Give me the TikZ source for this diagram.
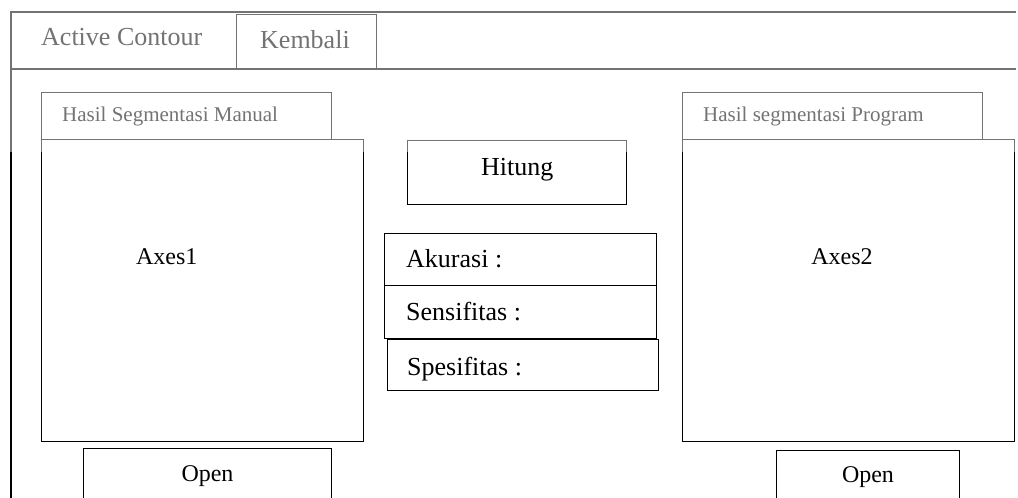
\documentclass[tikz,border=0pt]{standalone}
\usepackage{fontspec}
\setmainfont{Liberation Serif}
\begin{document}
\begin{tikzpicture}[x=1pt,y=-1pt,
  frame/.style={draw=black, line width=1.3pt},
  box/.style={draw=black, line width=1.3pt, inner sep=0pt, anchor=north west},
  big/.style={font=\fontsize{26}{30}\selectfont, inner sep=0pt, anchor=base west},
  small/.style={font=\fontsize{21}{25}\selectfont, inner sep=0pt, anchor=base west},
  mid/.style={font=\fontsize{24}{28}\selectfont, inner sep=0pt, anchor=base},
]
\useasboundingbox (0,0) rectangle (1018,498);

% window frame and title bar
\coordinate (winBL) at (11,510);
\coordinate (winTL) at (11,12);
\coordinate (winTR) at (1016,12);
\coordinate (barL) at (11,69);
\coordinate (barR) at (1016,69);
\draw[frame] (winBL) -- (winTL) -- (winTR);
\draw[frame] (barL) -- (barR);

\node[big] (title) at (41,45) {Active Contour};
\node[box, minimum width=140pt, minimum height=55pt] (kembali) at (235.5,13.5) {};
\node[big] (kembalitxt) at (260,48) {Kembali};

% left panel: manual segmentation
\node[box, minimum width=290pt, minimum height=47pt] (tabL) at (41,92) {};
\node[small] (tabLtxt) at (62,121.7) {Hasil Segmentasi Manual};
\node[box, minimum width=322pt, minimum height=302pt] (axesL) at (41,139) {};
\node[mid] (axesLtxt) at (166.7,264) {Axes1};
\node[box, minimum width=248pt, minimum height=62pt] (openL) at (83,448) {};
\node[mid] (openLtxt) at (207.5,481) {Open};

% right panel: program segmentation
\node[box, minimum width=300pt, minimum height=47pt] (tabR) at (682,92) {};
\node[small] (tabRtxt) at (703,121.7) {Hasil segmentasi Program};
\node[box, minimum width=332pt, minimum height=302pt] (axesR) at (682,139) {};
\node[mid] (axesRtxt) at (842,264) {Axes2};
\node[box, minimum width=183pt, minimum height=60pt] (openR) at (776,450) {};
\node[mid] (openRtxt) at (868,482) {Open};

% centre: compute button and results
\node[box, minimum width=219pt, minimum height=64pt] (hitung) at (407,140) {};
\node[big] (hitungtxt) at (481,175) {Hitung};
\node[box, minimum width=272pt, minimum height=52pt] (akurasi) at (384,233) {};
\node[big] (akurasitxt) at (406,267) {Akurasi :};
\node[box, minimum width=272pt, minimum height=52.5pt] (sensi) at (384,285) {};
\node[big] (sensitxt) at (406,320) {Sensifitas :};
\node[box, minimum width=271pt, minimum height=51.5pt] (spesi) at (387,338.5) {};
\node[big] (spesitxt) at (407,375) {Spesifitas :};

% faded header band
\fill[white, opacity=0.45] (0,0) rectangle (1018,152);
\end{tikzpicture}
\end{document}
